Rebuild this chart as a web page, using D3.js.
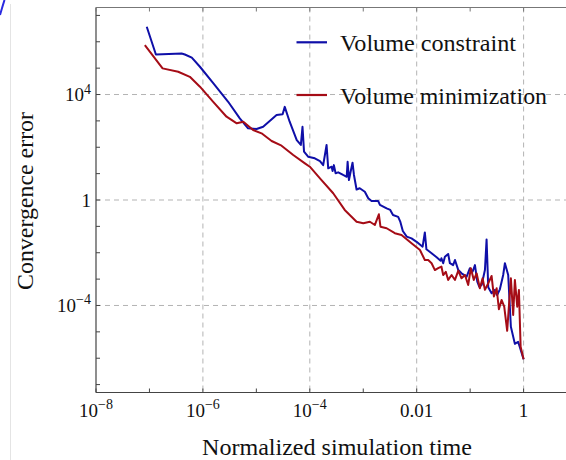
<!DOCTYPE html>
<html><head><meta charset="utf-8">
<script src="https://cdn.jsdelivr.net/npm/d3@7"></script>
<style>
html,body{margin:0;padding:0;background:#fff;}
svg{display:block;font-family:"Liberation Serif";}
svg text, svg tspan{font-family:"Liberation Serif" !important;}
</style></head>
<body>
<script>
// ---- data ----
const seriesNames = ["Volume constraint", "Volume minimization"];
const constraintTime = [8.9e-8,1.32e-7,4.0e-7,4.6e-7,6.2e-7,8.8e-7,1.56e-6,2.97e-6,4.9e-6,7.0e-6,
 1.01e-5,1.34e-5,2.39e-5,3.1e-5,3.4e-5,4.2e-5,5.7e-5,6.8e-5,7.3e-5,7.8e-5,
 9.3e-5,1.24e-4,1.55e-4,1.78e-4,2.06e-4,2.21e-4,2.56e-4,2.67e-4,2.82e-4,3.04e-4,
 3.4e-4,4.2e-4,4.9e-4,5.1e-4,5.4e-4,5.8e-4,6.3e-4,6.7e-4,7.5e-4,8.6e-4,
 1.07e-3,1.24e-3,1.43e-3,1.9e-3,2.05e-3,2.74e-3,3.2e-3,3.6e-3,4.5e-3,4.95e-3,
 5.5e-3,6.5e-3,8.0e-3,9.95e-3,0.0129,0.0142,0.0152,0.019,0.0236,0.028,
 0.029,0.0313,0.0337,0.0388,0.0418,0.048,0.052,0.06,0.069,0.086,
 0.099,0.111,0.123,0.136,0.148,0.164,0.189,0.203,0.218,0.252,
 0.29,0.32,0.36,0.415,0.447,0.515,0.578,0.687,0.79,1.0];
const constraintError = [3.7e6,3.3e5,3.6e5,3.3e5,2.5e5,1.13e5,2.7e4,5.3e3,1.25e3,523,
 492,601,1670,1780,3400,930,188,122,601,68,
 44,38,30,21,122,15.9,18.3,12.6,21,10.3,
 11.2,8.9,7.6,28,5.7,11.8,26,8.9,2.5,2.8,
 2.06,1.16,0.92,0.92,0.65,0.48,0.42,0.27,0.23,0.147,
 0.067,0.041,0.035,0.026,0.017,0.059,0.0135,0.0095,0.0067,0.005,
 0.0062,0.004,0.0071,0.009,0.004,0.0034,0.0053,0.0022,0.00166,0.00124,
 0.0026,0.0019,0.0034,0.0008,0.00052,0.0006,0.0022,0.032,0.00049,0.00029,
 0.00039,0.00025,0.00041,0.00143,0.004,0.00143,1.57e-5,3.5e-6,4.2e-6,9.1e-7];
const minimizationTime = [8.2e-8,1.76e-7,3.45e-7,5.7e-7,8.8e-7,1.56e-6,2.77e-6,4.3e-6,5.7e-6,8.7e-6,
 1.25e-5,1.93e-5,2.96e-5,4.9e-5,8.1e-5,1.0e-4,1.55e-4,2.74e-4,4.5e-4,7.5e-4,
 1.0e-3,1.33e-3,1.65e-3,1.96e-3,2.1e-3,2.74e-3,3.9e-3,5.2e-3,8.0e-3,0.0115,
 0.0142,0.0164,0.019,0.0219,0.0252,0.029,0.0313,0.035,0.0388,0.045,
 0.052,0.06,0.069,0.08,0.092,0.103,0.117,0.132,0.152,0.171,
 0.189,0.218,0.252,0.278,0.313,0.345,0.387,0.434,0.493,0.578,
 0.638,0.687,0.76,0.817,0.88,1.0];
const minimizationError = [7.5e5,9.8e4,7.3e4,4.7e4,1.98e4,5.3e3,1440,810,930,451,
 338,173,115,51,24.6,18.3,6.65,1.8,0.42,0.15,
 0.131,0.15,0.113,0.287,0.097,0.085,0.055,0.047,0.0228,0.0127,
 0.0053,0.0053,0.004,0.0022,0.0026,0.003,0.00143,0.0019,0.00093,0.00143,
 0.00093,0.0021,0.00107,0.00143,0.0006,0.0026,0.00093,0.00166,0.00045,0.00107,
 0.00039,0.0007,0.00131,0.00022,0.00045,7.2e-5,1.62e-4,9.0e-5,1.1e-5,0.00107,
 4.4e-5,0.00093,9.0e-5,0.00039,2.74e-6,9.1e-7];
const xTickValues = [1e-8,1e-6,1e-4,1e-2,1];
const xTickLabels = [["10","−8"],["10","−6"],["10","−4"],["0.01",""],["1",""]];
const yTickValues = [1e4,1,1e-4];
const yTickLabels = [["10","4"],["1",""],["10","−4"]];
const xMinorTicks = [1e-8,1e-7,1e-6,1e-5,1e-4,1e-3,1e-2,1e-1,1];
const yMinorTicks = [1e-7,1e-6,1e-5,1e-4,1e-3,1e-2,1e-1,1,10,100,1e3,1e4,1e5,1e6,1e7];
const colors = ["#0f0fa8","#a50c16"];

// ---- drawing ----
const W = 566, H = 460;
const FONT = "Liberation Serif";
const svg = d3.select("body").append("svg").attr("width", W).attr("height", H)
  .attr("font-family", FONT);

const x = d3.scaleLog().domain([1e-8, 1]).range([96, 523.6]);
const y = d3.scaleLog().domain([Math.pow(10,-7.3), Math.pow(10,7.3)]).range([392.5, 7.5]);
const pTop = y.range()[1], pBottom = y.range()[0], pLeft = x.range()[0];

// cropping artefacts at left edge
svg.append("line").attr("x1",10.5).attr("x2",10.5).attr("y1",4).attr("y2",H)
  .attr("stroke","#e4e4e4").attr("stroke-width",1);
svg.append("path").attr("d","M0,15 Q2,8 4.5,0").attr("fill","none")
  .attr("stroke","#2a2ae0").attr("stroke-width",2);

// grid
const grid = svg.append("g").attr("stroke","#b3b3b3").attr("stroke-width",1)
  .attr("stroke-dasharray","5,4");
grid.selectAll(".gx").data(xTickValues.slice(1)).join("line")
  .attr("x1",d=>x(d)).attr("x2",d=>x(d)).attr("y1",pTop).attr("y2",pBottom);
grid.selectAll(".gy").data(yTickValues).join("line")
  .attr("x1",pLeft).attr("x2",W).attr("y1",d=>y(d)).attr("y2",d=>y(d));

// spines
const axc = "#444";
svg.append("line").attr("x1",pLeft).attr("x2",pLeft).attr("y1",pTop).attr("y2",pBottom).attr("stroke",axc).attr("stroke-width",1.2);
svg.append("line").attr("x1",pLeft).attr("x2",W).attr("y1",pBottom).attr("y2",pBottom).attr("stroke",axc).attr("stroke-width",1.2);
svg.append("line").attr("x1",pLeft).attr("x2",W).attr("y1",pTop).attr("y2",pTop).attr("stroke","#777").attr("stroke-width",1.2);

// ticks (inward)
const tk = svg.append("g").attr("stroke",axc).attr("stroke-width",1);
tk.selectAll(".tb").data(xMinorTicks).join("line")
  .attr("x1",d=>x(d)).attr("x2",d=>x(d)).attr("y1",pBottom).attr("y2",pBottom-4);
const tk2 = svg.append("g").attr("stroke","#777").attr("stroke-width",1);
tk2.selectAll(".tt").data(xMinorTicks).join("line")
  .attr("x1",d=>x(d)).attr("x2",d=>x(d)).attr("y1",pTop).attr("y2",pTop+4);
const tk3 = svg.append("g").attr("stroke",axc).attr("stroke-width",1);
tk3.selectAll(".tl").data(yMinorTicks).join("line")
  .attr("x1",pLeft).attr("x2",pLeft+4).attr("y1",d=>y(d)).attr("y2",d=>y(d));

// tick labels
const xl = svg.selectAll(".xl").data(xTickValues).join("text")
  .attr("x",d=>x(d)).attr("y",416.5).attr("text-anchor","middle").attr("font-size",19).attr("fill","#111")
  .attr("font-family",FONT).style("font-family",FONT);
xl.append("tspan").text((d,i)=>xTickLabels[i][0]);
xl.append("tspan").attr("font-size",14).attr("dy",-7.5).text((d,i)=>xTickLabels[i][1]);
const yl = svg.selectAll(".yl").data(yTickValues).join("text")
  .attr("x",91).attr("y",d=>y(d)+6.5).attr("text-anchor","end").attr("font-size",19).attr("fill","#111")
  .attr("font-family",FONT).style("font-family",FONT);
yl.append("tspan").text((d,i)=>yTickLabels[i][0]);
yl.append("tspan").attr("font-size",14).attr("dy",-7.5).text((d,i)=>yTickLabels[i][1]);

// lines
const line = d3.line().x(d=>x(d[0])).y(d=>y(d[1]));
const blueData = d3.zip(constraintTime, constraintError);
const redData = d3.zip(minimizationTime, minimizationError);
svg.append("path").datum(blueData).attr("d",line).attr("fill","none")
  .attr("stroke",colors[0]).attr("stroke-width",2).attr("stroke-linejoin","round");
svg.append("path").datum(redData).attr("d",line).attr("fill","none")
  .attr("stroke",colors[1]).attr("stroke-width",2).attr("stroke-linejoin","round");

// legend
const lg = svg.append("g");
const legY = [42.3, 95];
seriesNames.forEach((n,i)=>{
  lg.append("line").attr("x1",296.5).attr("x2",327).attr("y1",legY[i]).attr("y2",legY[i])
    .attr("stroke",colors[i]).attr("stroke-width",2.2);
  lg.append("text").attr("x",340).attr("y",legY[i]+8.5).attr("font-size",24).attr("fill","#111")
    .attr("font-family",FONT).style("font-family",FONT)
    .attr("textLength", i===0?176:207).attr("lengthAdjust","spacingAndGlyphs").text(n);
});

// axis titles
svg.append("text").attr("transform","translate(33,201) rotate(-90)")
  .attr("text-anchor","middle").attr("font-size",24).attr("fill","#111")
  .attr("font-family",FONT).style("font-family",FONT)
  .attr("textLength",178).attr("lengthAdjust","spacingAndGlyphs").text("Convergence error");
svg.append("text").attr("x",337).attr("y",455).attr("text-anchor","middle").attr("font-size",24).attr("fill","#111")
  .attr("font-family",FONT).style("font-family",FONT)
  .attr("textLength",270).attr("lengthAdjust","spacingAndGlyphs").text("Normalized simulation time");
</script>
</body></html>
